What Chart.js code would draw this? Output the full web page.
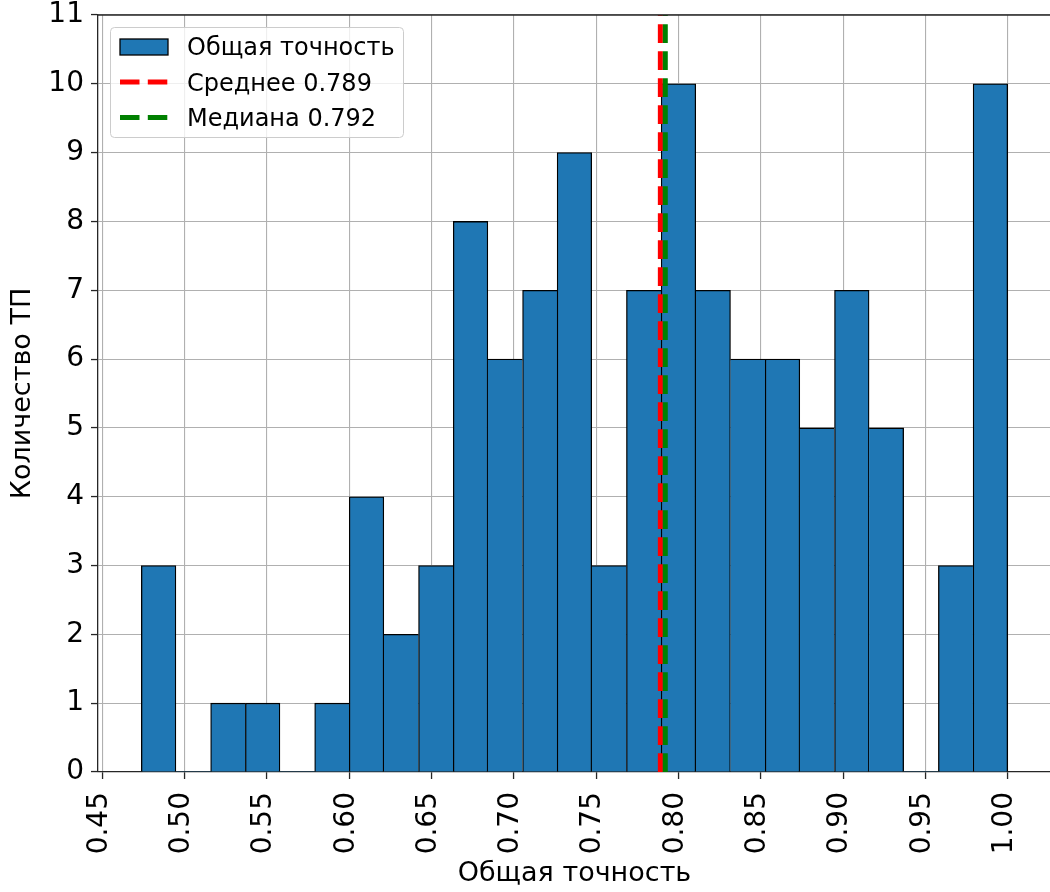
<!DOCTYPE html>
<html>
<head>
<meta charset="utf-8">
<title>Общая точность</title>
<script src="https://cdn.jsdelivr.net/npm/chart.js@4.4.1/dist/chart.umd.min.js"></script>
<style>
  html, body { margin: 0; padding: 0; overflow: hidden; background: #ffffff; }
  canvas { display: block; }
</style>
</head>
<body>
<canvas id="hist" width="1060" height="892" style="width:1060px;height:892px"></canvas>
<script>
// Histogram bins (centres) and counts
const binCenters = [
  0.4842, 0.5053, 0.5263, 0.5474, 0.5684, 0.5895, 0.6105, 0.6316, 0.6526,
  0.6737, 0.6947, 0.7158, 0.7368, 0.7579, 0.7789, 0.8000, 0.8211, 0.8421,
  0.8632, 0.8842, 0.9053, 0.9263, 0.9474, 0.9684, 0.9895
];
const binCounts = [
  3, 0, 1, 1, 0, 1, 4, 2, 3,
  8, 6, 7, 9, 3, 7, 10, 7, 6,
  6, 5, 7, 5, 0, 3, 10
];
const xTickValues = [0.45, 0.50, 0.55, 0.60, 0.65, 0.70, 0.75, 0.80, 0.85, 0.90, 0.95, 1.00];
const yTickValues = [0, 1, 2, 3, 4, 5, 6, 7, 8, 9, 10, 11];
const meanValue = 0.789;
const medianValue = 0.792;

const seriesLabel = 'Общая точность';
const meanLabel = 'Среднее ' + meanValue.toFixed(3);
const medianLabel = 'Медиана ' + medianValue.toFixed(3);
const xTitle = 'Общая точность';
const yTitle = 'Количество ТП';

const FONT = "'DejaVu Sans', sans-serif";
const BAR_COLOR = '#1f77b4';
const EDGE = 1.3;

// Mean / median markers, top spine and the legend box
const overlayPlugin = {
  id: 'overlay',
  afterDraw(chart) {
    const { ctx, chartArea: a, scales: { x, y } } = chart;
    ctx.save();

    // vertical dashed markers, dashes counted from the bottom
    const yb = y.getPixelForValue(y.min), yt = y.getPixelForValue(y.max);
    [[meanValue, '#ff0000'], [medianValue, '#008000']].forEach(([v, c]) => {
      const px = x.getPixelForValue(v);
      ctx.beginPath();
      ctx.strokeStyle = c;
      ctx.lineWidth = 5;
      ctx.lineCap = 'butt';
      ctx.setLineDash([18.7, 8.3]);
      ctx.moveTo(px, yb);
      ctx.lineTo(px, yt);
      ctx.stroke();
    });
    ctx.setLineDash([]);

    // top and right spines
    ctx.beginPath();
    ctx.strokeStyle = '#262626';
    ctx.lineWidth = 1.3;
    ctx.moveTo(a.left, a.top);
    ctx.lineTo(a.right, a.top);
    ctx.moveTo(a.right, a.top);
    ctx.lineTo(a.right, a.bottom);
    ctx.stroke();

    // legend
    const lx = 110.5, ly = 27.5, lw = 293, lh = 110, r = 4;
    ctx.beginPath();
    ctx.moveTo(lx + r, ly);
    ctx.lineTo(lx + lw - r, ly);
    ctx.arcTo(lx + lw, ly, lx + lw, ly + r, r);
    ctx.lineTo(lx + lw, ly + lh - r);
    ctx.arcTo(lx + lw, ly + lh, lx + lw - r, ly + lh, r);
    ctx.lineTo(lx + r, ly + lh);
    ctx.arcTo(lx, ly + lh, lx, ly + lh - r, r);
    ctx.lineTo(lx, ly + r);
    ctx.arcTo(lx, ly, lx + r, ly, r);
    ctx.closePath();
    ctx.fillStyle = 'rgba(255,255,255,0.8)';
    ctx.fill();
    ctx.strokeStyle = '#cccccc';
    ctx.lineWidth = 1;
    ctx.stroke();

    ctx.fillStyle = BAR_COLOR;
    ctx.fillRect(120, 39, 48, 16);
    ctx.strokeStyle = '#000000';
    ctx.lineWidth = 1.3;
    ctx.strokeRect(120, 39, 48, 16);

    [[82, '#ff0000'], [117.5, '#008000']].forEach(([ry, c]) => {
      ctx.beginPath();
      ctx.strokeStyle = c;
      ctx.lineWidth = 5;
      ctx.setLineDash([19.5, 8.3]);
      ctx.moveTo(120, ry);
      ctx.lineTo(168, ry);
      ctx.stroke();
    });
    ctx.setLineDash([]);

    ctx.fillStyle = '#000000';
    ctx.font = '24px ' + FONT;
    ctx.textAlign = 'left';
    ctx.textBaseline = 'alphabetic';
    ctx.fillText(seriesLabel, 187, 55);
    ctx.fillText(meanLabel, 187, 90.7);
    ctx.fillText(medianLabel, 187, 126.4);

    ctx.restore();
  }
};

new Chart(document.getElementById('hist'), {
  type: 'bar',
  data: {
    datasets: [{
      label: seriesLabel,
      data: binCenters.map((c, i) => ({ x: c, y: binCounts[i] })),
      backgroundColor: BAR_COLOR,
      borderColor: '#000000',
      borderWidth: (ctx) => {
        const i = ctx.dataIndex;
        const cur = binCounts[i];
        const prev = i > 0 ? binCounts[i - 1] : 0;
        const next = i < binCounts.length - 1 ? binCounts[i + 1] : 0;
        return {
          top: EDGE,
          bottom: 0,
          left: prev <= cur ? EDGE : 0,
          right: next < cur ? EDGE : 0
        };
      },
      borderSkipped: false,
      barPercentage: 1.0,
      categoryPercentage: 1.0
    }]
  },
  options: {
    responsive: false,
    animation: false,
    devicePixelRatio: 1,
    layout: { padding: { top: 15, right: 9, bottom: 0, left: 0 } },
    plugins: {
      legend: { display: false },
      tooltip: { enabled: false }
    },
    scales: {
      x: {
        type: 'linear',
        min: 0.44737,
        max: 1.026316,
        offset: false,
        z: 1,
        afterBuildTicks: (s) => { s.ticks = xTickValues.map(v => ({ value: v })); },
        afterFit: (s) => { s.height = 120; s.paddingLeft = 0; s.paddingRight = 0; },
        grid: {
          offset: false,
          color: '#b0b0b0',
          lineWidth: 1.1,
          drawTicks: true,
          tickLength: 7,
          tickColor: '#262626',
          tickWidth: 1.3
        },
        border: { color: '#262626', width: 1.3 },
        ticks: {
          autoSkip: false,
          minRotation: 90,
          maxRotation: 90,
          padding: 13,
          labelOffset: -3,
          color: '#000000',
          font: { family: FONT, size: 28 },
          callback: (v) => Number(v).toFixed(2)
        },
        title: {
          display: true,
          text: xTitle,
          color: '#000000',
          font: { family: FONT, size: 27, lineHeight: 1.2 },
          padding: { top: 0, bottom: 1.8 }
        }
      },
      y: {
        min: 0,
        max: 11,
        z: 1,
        afterBuildTicks: (s) => { s.ticks = yTickValues.map(v => ({ value: v })); },
        afterFit: (s) => { s.width = 98; s.paddingTop = 0; s.paddingBottom = 0; },
        grid: {
          color: '#b0b0b0',
          lineWidth: 1.1,
          drawTicks: true,
          tickLength: 7,
          tickColor: '#262626',
          tickWidth: 1.3
        },
        border: { color: '#262626', width: 1.3 },
        ticks: {
          padding: 7,
          color: '#000000',
          font: { family: FONT, size: 28 },
          callback: (v) => String(v)
        },
        title: {
          display: true,
          text: yTitle,
          color: '#000000',
          font: { family: FONT, size: 27, lineHeight: 1.2 },
          padding: { top: 6.8, bottom: 0 }
        }
      }
    }
  },
  plugins: [overlayPlugin]
});
</script>
</body>
</html>
